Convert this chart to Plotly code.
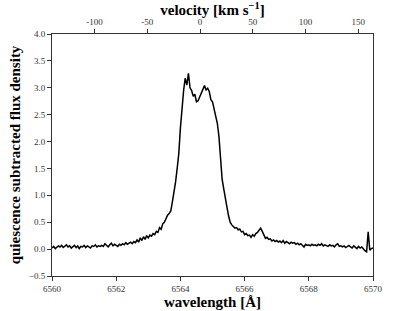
import plotly.graph_objects as go

wavelength = [
    6560.00, 6560.05, 6560.10, 6560.15, 6560.20, 6560.25, 6560.30, 6560.35, 6560.40, 6560.45, 6560.50,
    6560.55, 6560.60, 6560.65, 6560.70, 6560.75, 6560.80, 6560.85, 6560.90, 6560.95, 6561.00,
    6561.05, 6561.10, 6561.15, 6561.20, 6561.25, 6561.30, 6561.35, 6561.40, 6561.45, 6561.50,
    6561.55, 6561.60, 6561.65, 6561.70, 6561.75, 6561.80, 6561.85, 6561.90, 6561.95, 6562.00,
    6562.05, 6562.10, 6562.15, 6562.20, 6562.25, 6562.30, 6562.35, 6562.40, 6562.45, 6562.50,
    6562.55, 6562.60, 6562.65, 6562.70, 6562.75, 6562.80, 6562.85, 6562.90, 6562.95, 6563.00,
    6563.05, 6563.10, 6563.15, 6563.20, 6563.25, 6563.30, 6563.35, 6563.40, 6563.45, 6563.50,
    6563.55, 6563.60, 6563.65, 6563.70, 6563.75, 6563.80, 6563.85, 6563.90, 6563.95, 6564.00,
    6564.05, 6564.10, 6564.15, 6564.20, 6564.25, 6564.30, 6564.35, 6564.40, 6564.45, 6564.50,
    6564.55, 6564.60, 6564.65, 6564.70, 6564.75, 6564.80, 6564.85, 6564.90, 6564.95, 6565.00,
    6565.05, 6565.10, 6565.15, 6565.20, 6565.25, 6565.30, 6565.35, 6565.40, 6565.45, 6565.50,
    6565.55, 6565.60, 6565.65, 6565.70, 6565.75, 6565.80, 6565.85, 6565.90, 6565.95, 6566.00,
    6566.05, 6566.10, 6566.15, 6566.20, 6566.25, 6566.30, 6566.35, 6566.40, 6566.45, 6566.50,
    6566.55, 6566.60, 6566.65, 6566.70, 6566.75, 6566.80, 6566.85, 6566.90, 6566.95, 6567.00,
    6567.05, 6567.10, 6567.15, 6567.20, 6567.25, 6567.30, 6567.35, 6567.40, 6567.45, 6567.50,
    6567.55, 6567.60, 6567.65, 6567.70, 6567.75, 6567.80, 6567.85, 6567.90, 6567.95, 6568.00,
    6568.05, 6568.10, 6568.15, 6568.20, 6568.25, 6568.30, 6568.35, 6568.40, 6568.45, 6568.50,
    6568.55, 6568.60, 6568.65, 6568.70, 6568.75, 6568.80, 6568.85, 6568.90, 6568.95, 6569.00,
    6569.05, 6569.10, 6569.15, 6569.20, 6569.25, 6569.30, 6569.35, 6569.40, 6569.45, 6569.50,
    6569.55, 6569.60, 6569.65, 6569.70, 6569.75, 6569.80, 6569.85, 6569.90, 6569.95, 6570.00,
]

flux = [
    0.02, 0.05, 0.01, 0.03, 0.06, 0.04, 0.07, 0.03, 0.05, 0.08, 0.04,
    0.06, 0.02, 0.05, 0.07, 0.03, 0.06, 0.01, 0.05, 0.04, 0.07,
    0.03, 0.06, 0.04, 0.02, 0.06, 0.05, 0.08, 0.04, 0.06, 0.05,
    0.07, 0.05, 0.10, 0.06, 0.04, 0.08, 0.11, 0.06, 0.09, 0.07,
    0.05, 0.09, 0.07, 0.10, 0.08, 0.12, 0.09, 0.11, 0.13, 0.10,
    0.14, 0.12, 0.17, 0.13, 0.21, 0.16, 0.23, 0.18, 0.25, 0.21,
    0.26, 0.24, 0.29, 0.27, 0.33, 0.31, 0.40, 0.37, 0.47, 0.50,
    0.58, 0.63, 0.66, 0.71, 0.88, 1.05, 1.25, 1.50, 1.78, 2.25,
    2.65, 2.95, 3.18, 3.05, 3.27, 3.00, 2.95, 2.84, 2.88, 2.74,
    2.76, 2.83, 2.88, 2.95, 3.04, 2.96, 2.99, 2.93, 2.78, 2.74,
    2.62, 2.49, 2.34, 2.10, 1.70, 1.30, 1.12, 0.92, 0.78, 0.62,
    0.50, 0.45, 0.42, 0.39, 0.40, 0.36, 0.37, 0.32, 0.33, 0.27,
    0.29, 0.25, 0.26, 0.22, 0.27, 0.24, 0.29, 0.31, 0.35, 0.39,
    0.33, 0.26, 0.20, 0.22, 0.18, 0.19, 0.15, 0.17, 0.14, 0.16,
    0.13, 0.15, 0.12, 0.16, 0.11, 0.14, 0.12, 0.10, 0.13, 0.11,
    0.12, 0.09, 0.11, 0.08, 0.10, 0.07, 0.04, 0.09, 0.07, 0.08,
    0.06, 0.09, 0.07, 0.08, 0.06, 0.09, 0.07, 0.10, 0.06, 0.08,
    0.07, 0.05, 0.08, 0.06, 0.07, 0.04, 0.08, 0.10, 0.05, 0.06,
    0.04, 0.06, 0.03, 0.05, 0.07, 0.04, 0.02, 0.06, 0.03, 0.01,
    0.05, 0.02, 0.04, 0.00, -0.03, -0.05, 0.32, -0.02, 0.01, 0.02,
]

wl_ticks = [6560, 6562, 6564, 6566, 6568, 6570]
y_ticks = [-0.5, 0.0, 0.5, 1.0, 1.5, 2.0, 2.5, 3.0, 3.5, 4.0]
vel_ticks = [-100, -50, 0, 50, 100, 150]
vel_range = [-140.4, 164.1]

SERIF = "Liberation Serif"
tickfont = dict(family=SERIF, size=9, color="#333")
titlefont = dict(family=SERIF, size=15, color="black")

fig = go.Figure()
fig.add_trace(go.Scatter(x=wavelength, y=flux, mode="lines",
                         line=dict(color="black", width=1.5), showlegend=False))
# invisible trace to activate top axis
fig.add_trace(go.Scatter(x=vel_range, y=[None, None], xaxis="x2", mode="lines",
                         showlegend=False, hoverinfo="skip"))

fig.update_layout(
    width=415, height=311,
    margin=dict(l=52, r=42, t=34, b=35),
    paper_bgcolor="white", plot_bgcolor="white",
    xaxis=dict(range=[6560, 6570], tickvals=wl_ticks, ticktext=[str(t) for t in wl_ticks],
               ticks="outside", ticklen=4, tickwidth=1, tickcolor="#333",
               showline=True, linecolor="#333", linewidth=1, mirror=True,
               showgrid=False, zeroline=False, tickfont=tickfont, automargin=False,
               title=dict(text="<b>wavelength [Å]</b>", font=titlefont, standoff=3)),
    xaxis2=dict(range=vel_range, overlaying="x", side="top", anchor="y",
                tickvals=vel_ticks, ticktext=[str(t) for t in vel_ticks],
                ticks="outside", ticklen=4, tickwidth=1, tickcolor="#333",
                showline=True, linecolor="#333", linewidth=1, automargin=False,
                showgrid=False, zeroline=False, tickfont=tickfont,
                title=dict(text="<b>velocity [km s<sup>−1</sup>]</b>", font=titlefont, standoff=2)),
    yaxis=dict(range=[-0.5, 4.0], tickvals=y_ticks, tickformat=".1f",
               ticks="outside", ticklen=4, tickwidth=1, tickcolor="#333",
               showline=True, linecolor="#333", linewidth=1, mirror=True,
               showgrid=False, zeroline=False, tickfont=tickfont, automargin=False,
               title=dict(text="<b>quiescence subtracted flux density</b>", font=titlefont, standoff=4)),
)

fig.write_html("out.html", config={"displayModeBar": False},
               post_script="document.body.style.margin='0px';")
